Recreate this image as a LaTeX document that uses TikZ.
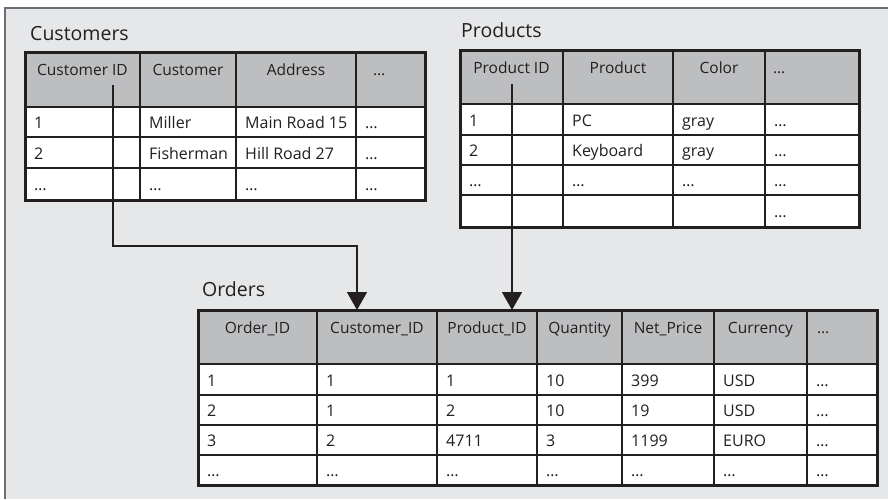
\documentclass[tikz,border=0pt]{standalone}
\usepackage{fontspec}
\setmainfont{Open Sans}
\usetikzlibrary{calc,arrows.meta}
\definecolor{bgc}{HTML}{E6E7E8}
\definecolor{hdc}{HTML}{BCBEC0}
\definecolor{lnc}{HTML}{231F20}
\definecolor{frc}{HTML}{6D6E71}
\definecolor{txc}{HTML}{231F20}
\tikzset{
 cellbox/.style={draw=lnc, line width=1.8pt, inner sep=0pt, outer sep=0pt, rectangle},
 dtext/.style={text=txc, inner sep=0pt, font=\fontsize{16}{19}\selectfont},
 htext/.style={text=txc, inner sep=0pt, font=\fontsize{15.5}{18}\selectfont},
 ttext/.style={text=txc, inner sep=0pt, font=\fontsize{19.5}{22}\selectfont},
 tframe/.style={draw=lnc, line width=3pt},
 conn/.style={draw=lnc, line width=1.6pt},
 tiparrow/.style={-{Triangle[width=20pt,length=18pt]}},
}
\newcommand\cellD[6]{%
 \node[cellbox, fill=white, minimum width={(#4-#2)*1pt}, minimum height={(#5-#3)*1pt}] (#1) at ({(#2+#4)/2},{(#3+#5)/2}) {};
 \node[dtext, anchor=base west] (#1t) at ($(#1.west)+(9,6.5)$) {#6};}
\newcommand\cellH[6]{%
 \node[cellbox, fill=hdc, minimum width={(#4-#2)*1pt}, minimum height={(#5-#3)*1pt}] (#1) at ({(#2+#4)/2},{(#3+#5)/2}) {};
 \node[htext, anchor=base] (#1t) at ($(#1.north)+(0,23.5)$) {#6};}
\newcommand\cellHL[7]{%
 \node[cellbox, fill=hdc, minimum width={(#4-#2)*1pt}, minimum height={(#5-#3)*1pt}] (#1) at ({(#2+#4)/2},{(#3+#5)/2}) {};
 \node[htext, anchor=base west] (#1t) at ($(#1.north west)+(#6,23.5)$) {#7};}
\begin{document}
\begin{tikzpicture}[x=1pt,y=-1pt]
\useasboundingbox (0,0) rectangle (888,499);
\fill[bgc] (5,8) rectangle (888,499);
\draw[frc, line width=1.2pt] (5,499) -- (5,8) -- (888,8);

% Customers
\node[ttext, anchor=base west] (tc) at (30,40) {Customers};
\cellH{c00}{25}{52}{140}{107}{Customer ID}
\cellH{c01}{140}{52}{236}{107}{Customer}
\cellH{c02}{236}{52}{356}{107}{Address}
\cellHL{c03}{356}{52}{425}{107}{17}{\dots}
\cellD{c10}{25}{107}{140}{137}{1}
\cellD{c11}{140}{107}{236}{137}{Miller}
\cellD{c12}{236}{107}{356}{137}{Main Road 15}
\cellD{c13}{356}{107}{425}{137}{\dots}
\cellD{c20}{25}{137}{140}{168}{2}
\cellD{c21}{140}{137}{236}{168}{Fisherman}
\cellD{c22}{236}{137}{356}{168}{Hill Road 27}
\cellD{c23}{356}{137}{425}{168}{\dots}
\cellD{c30}{25}{168}{140}{200}{\dots}
\cellD{c31}{140}{168}{236}{200}{\dots}
\cellD{c32}{236}{168}{356}{200}{\dots}
\cellD{c33}{356}{168}{425}{200}{\dots}
\draw[tframe] (c00.north west) rectangle (c33.south east);

% Products
\node[ttext, anchor=base west] (tp) at (461,37) {Products};
\cellH{p00}{460}{50}{563}{104}{Product ID}
\cellH{p01}{563}{50}{673}{104}{Product}
\cellH{p02}{673}{50}{765}{104}{Color}
\cellHL{p03}{765}{50}{859}{104}{8}{\dots}
\cellD{p10}{460}{104}{563}{135}{1}
\cellD{p11}{563}{104}{673}{135}{PC}
\cellD{p12}{673}{104}{765}{135}{gray}
\cellD{p13}{765}{104}{859}{135}{\dots}
\cellD{p20}{460}{135}{563}{165}{2}
\cellD{p21}{563}{135}{673}{165}{Keyboard}
\cellD{p22}{673}{135}{765}{165}{gray}
\cellD{p23}{765}{135}{859}{165}{\dots}
\cellD{p30}{460}{165}{563}{195}{\dots}
\cellD{p31}{563}{165}{673}{195}{\dots}
\cellD{p32}{673}{165}{765}{195}{\dots}
\cellD{p33}{765}{165}{859}{195}{\dots}
\cellD{p40}{460}{195}{563}{227}{}
\cellD{p41}{563}{195}{673}{227}{}
\cellD{p42}{673}{195}{765}{227}{}
\cellD{p43}{765}{195}{859}{227}{\dots}
\draw[tframe] (p00.north west) rectangle (p43.south east);

% Orders
\node[ttext, anchor=base west] (to) at (202,296) {Orders};
\cellH{o00}{198}{310}{317}{364}{Order\_ID}
\cellH{o01}{317}{310}{437}{364}{Customer\_ID}
\cellH{o02}{437}{310}{537}{364}{Product\_ID}
\cellH{o03}{537}{310}{622}{364}{Quantity}
\cellH{o04}{622}{310}{714}{364}{Net\_Price}
\cellH{o05}{714}{310}{807}{364}{Currency}
\cellHL{o06}{807}{310}{877}{364}{10}{\dots}
\cellD{o10}{198}{364}{317}{395}{1}
\cellD{o11}{317}{364}{437}{395}{1}
\cellD{o12}{437}{364}{537}{395}{1}
\cellD{o13}{537}{364}{622}{395}{10}
\cellD{o14}{622}{364}{714}{395}{399}
\cellD{o15}{714}{364}{807}{395}{USD}
\cellD{o16}{807}{364}{877}{395}{\dots}
\cellD{o20}{198}{395}{317}{425}{2}
\cellD{o21}{317}{395}{437}{425}{1}
\cellD{o22}{437}{395}{537}{425}{2}
\cellD{o23}{537}{395}{622}{425}{10}
\cellD{o24}{622}{395}{714}{425}{19}
\cellD{o25}{714}{395}{807}{425}{USD}
\cellD{o26}{807}{395}{877}{425}{\dots}
\cellD{o30}{198}{425}{317}{455}{3}
\cellD{o31}{317}{425}{437}{455}{2}
\cellD{o32}{437}{425}{537}{455}{4711}
\cellD{o33}{537}{425}{622}{455}{3}
\cellD{o34}{622}{425}{714}{455}{1199}
\cellD{o35}{714}{425}{807}{455}{EURO}
\cellD{o36}{807}{425}{877}{455}{\dots}
\cellD{o40}{198}{455}{317}{485}{\dots}
\cellD{o41}{317}{455}{437}{485}{\dots}
\cellD{o42}{437}{455}{537}{485}{\dots}
\cellD{o43}{537}{455}{622}{485}{\dots}
\cellD{o44}{622}{455}{714}{485}{\dots}
\cellD{o45}{714}{455}{807}{485}{\dots}
\cellD{o46}{807}{455}{877}{485}{\dots}
\draw[tframe] (o00.north west) rectangle (o46.south east);

% connectors
\coordinate (cs) at (113,85);
\coordinate (ck) at (357,246);
\draw[conn, tiparrow] (cs) |- (ck) -- (ck |- o01.north);
\coordinate (ps) at (512,84);
\draw[conn, tiparrow] (ps) -- (ps |- o02.north);
\end{tikzpicture}
\end{document}
